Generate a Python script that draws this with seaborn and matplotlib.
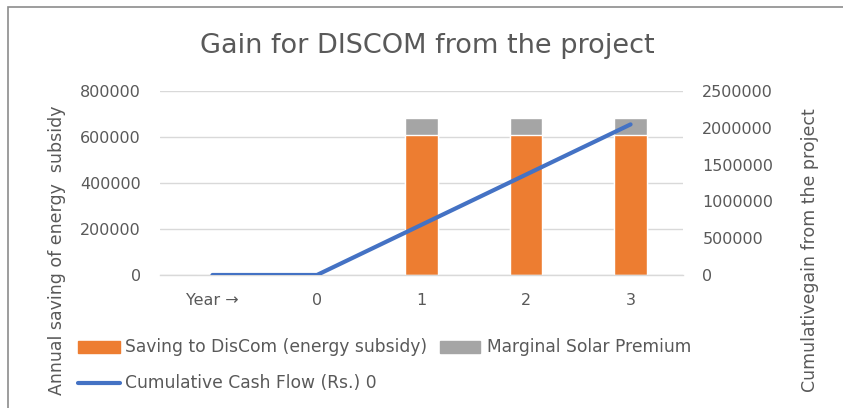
import matplotlib
matplotlib.use("Agg")
import matplotlib.pyplot as plt
import seaborn as sns
import numpy as np
import pandas as pd
from matplotlib.patches import Rectangle

categories = ["Year \u2192", "0", "1", "2", "3"]
saving = [0, 0, 610000, 610000, 610000]
premium = [0, 0, 72000, 72000, 72000]
cumulative = [0, 0, 682000, 1364000, 2046000]

sns.set_theme(style="white")
plt.rcParams["font.family"] = ["DejaVu Sans"]

grey_txt = "#595959"
orange = "#ED7D31"
grey = "#A5A5A5"
blue = "#4472C4"

df = pd.DataFrame({
    "cat": categories,
    "saving": saving,
    "total": np.array(saving) + np.array(premium),
})

fig = plt.figure(figsize=(8.43, 4.08), dpi=100)
ax = fig.add_axes([0.19, 0.326, 0.62, 0.451])

# stacked bars: total in grey behind, saving in orange on top
sns.barplot(data=df, x="cat", y="total", color=grey, width=0.31,
            saturation=1, ax=ax, order=categories)
sns.barplot(data=df, x="cat", y="saving", color=orange, width=0.31,
            saturation=1, ax=ax, order=categories)

ax.set_ylim(0, 800000)
ax.set_yticks(np.arange(0, 800001, 200000))
ax.set_xlim(-0.5, len(categories) - 0.5)
ax.yaxis.grid(True, color="#d9d9d9", linewidth=1)
ax.set_axisbelow(True)
for s in ax.spines.values():
    s.set_visible(False)
ax.spines["bottom"].set_visible(True)
ax.spines["bottom"].set_color("#d9d9d9")
ax.spines["bottom"].set_linewidth(1)
ax.tick_params(axis="both", length=0, labelsize=11.5, labelcolor=grey_txt)
ax.tick_params(axis="y", pad=14)
ax.tick_params(axis="x", pad=13)
ax.set_xlabel("")
ax.set_ylabel("")
ax.ticklabel_format(style="plain", axis="y")

ax2 = ax.twinx()
sns.lineplot(x=np.arange(len(categories)), y=cumulative, color=blue,
             linewidth=3, ax=ax2)
ax2.set_ylim(0, 2500000)
ax2.set_yticks(np.arange(0, 2500001, 500000))
for s in ax2.spines.values():
    s.set_visible(False)
ax2.tick_params(axis="y", length=0, labelsize=11.5, labelcolor=grey_txt, pad=14)
ax2.ticklabel_format(style="plain", axis="y")

fig.text(0.0676, 0.387, "Annual saving of energy  subsidy", rotation=90,
         fontsize=12.5, color=grey_txt, ha="center", va="center")
fig.text(0.961, 0.387, "Cumulativegain from the project", rotation=90,
         fontsize=12.5, color=grey_txt, ha="center", va="center")

fig.text(0.507, 0.888, "Gain for DISCOM from the project", fontsize=19.5,
         color=grey_txt, ha="center", va="center")

# legend (Excel-like, below the plot)
ly = 0.15
fig.patches.append(Rectangle((0.0925, ly - 0.015), 0.05, 0.03, color=orange,
                             transform=fig.transFigure))
fig.text(0.148, ly, "Saving to DisCom (energy subsidy)", fontsize=12.3,
         color=grey_txt, va="center")
fig.patches.append(Rectangle((0.522, ly - 0.015), 0.047, 0.03, color=grey,
                             transform=fig.transFigure))
fig.text(0.578, ly, "Marginal Solar Premium", fontsize=12.3,
         color=grey_txt, va="center")
ly2 = 0.061
fig.lines.append(plt.Line2D([0.0925, 0.1425], [ly2, ly2], color=blue,
                            linewidth=3, transform=fig.transFigure))
fig.text(0.148, ly2, "Cumulative Cash Flow (Rs.) 0", fontsize=12.3,
         color=grey_txt, va="center")

# chart border
fig.patches.append(Rectangle((0.0095, -0.05), 1.2, 1.033, fill=False,
                             edgecolor="#8c8c8c", linewidth=1.2,
                             transform=fig.transFigure))

fig.savefig("out.png", dpi=100)
